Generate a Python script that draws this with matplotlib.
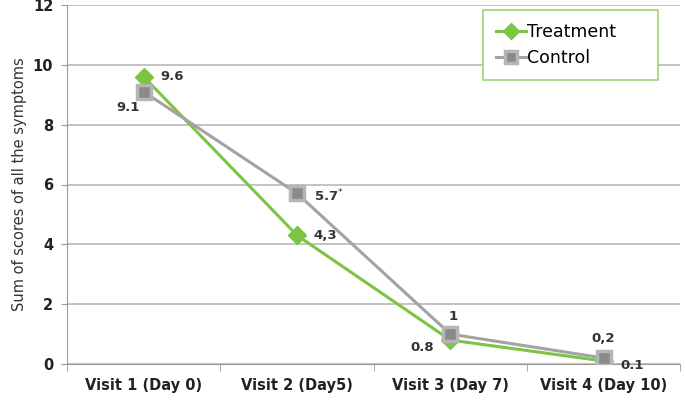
import matplotlib.pyplot as plt

visits = ["Visit 1 (Day 0)", "Visit 2 (Day5)", "Visit 3 (Day 7)", "Visit 4 (Day 10)"]
treatment = [9.6, 4.3, 0.8, 0.1]
control = [9.1, 5.7, 1.0, 0.2]
treatment_labels = ["9.6", "4,3", "0.8", "0.1"]
control_labels = ["9.1", "5.7$^{*}$", "1", "0,2"]

green = "#7cc444"
gray = "#a3a3a3"

fig = plt.figure(figsize=(6.85, 4.0), dpi=100)
ax = fig.add_axes([0.098, 0.09, 0.895, 0.8975])

x = [i + 0.5 for i in range(len(visits))]

ax.plot(x, treatment, color=green, lw=2.2, marker="D", ms=9,
        mfc=green, mec=green, label="Treatment", zorder=3)
ax.plot(x, control, color=gray, lw=2.2, marker="s", ms=10,
        mfc="#8a8a8a", mec="#b5b5b5", mew=2.5, label="Control", zorder=4)

# data labels
toff = [(12, 0), (12, 0), (-12, -5), (12, -3)]
tha = ["left", "left", "right", "left"]
coff = [(-3, -11), (12, -2), (2, 13), (0, 14)]
cha = ["right", "left", "center", "center"]
for i in range(len(visits)):
    ax.annotate(treatment_labels[i], (x[i], treatment[i]), xytext=toff[i],
                textcoords="offset points", ha=tha[i], va="center",
                fontsize=9.5, fontweight="bold", color="#333333")
    ax.annotate(control_labels[i], (x[i], control[i]), xytext=coff[i],
                textcoords="offset points", ha=cha[i], va="center",
                fontsize=9.5, fontweight="bold", color="#333333")

ax.set_xlim(0, 4)
ax.set_ylim(0, 12)
ax.set_yticks(range(0, 13, 2))
ax.set_xticks(x)
ax.set_xticklabels(visits, fontsize=10.5, fontweight="bold", color="#222222")
ax.set_xticks(range(0, 5), minor=True)
ax.tick_params(axis="x", which="major", length=0, pad=10)
ax.tick_params(axis="x", which="minor", length=5, color="#9a9a9a")
ax.tick_params(axis="y", length=4, color="#9a9a9a", labelsize=10.5, pad=6)
for lab in ax.get_yticklabels():
    lab.set_fontweight("bold")
    lab.set_color("#222222")

ax.grid(axis="y", color="#b3b3b3", lw=1.1)
ax.set_axisbelow(True)
for s in ["top", "right"]:
    ax.spines[s].set_visible(False)
ax.spines["left"].set_color("#9a9a9a")
ax.spines["bottom"].set_color("#9a9a9a")

ax.set_ylabel("Sum of scores of all the symptoms", fontsize=10.5, color="#333333")

leg = ax.legend(loc="upper left", bbox_to_anchor=(0.679, 0.80, 0.284, 0.186),
                mode="expand", fontsize=12.5,
                frameon=True, fancybox=False, handlelength=1.7,
                handletextpad=0.05, borderpad=0.75, borderaxespad=0,
                labelspacing=0.45, markerscale=0.85)
leg.get_frame().set_edgecolor("#9fd37a")
leg.get_frame().set_linewidth(1.2)
leg.get_frame().set_alpha(1)

fig.savefig("out.png", dpi=100)
